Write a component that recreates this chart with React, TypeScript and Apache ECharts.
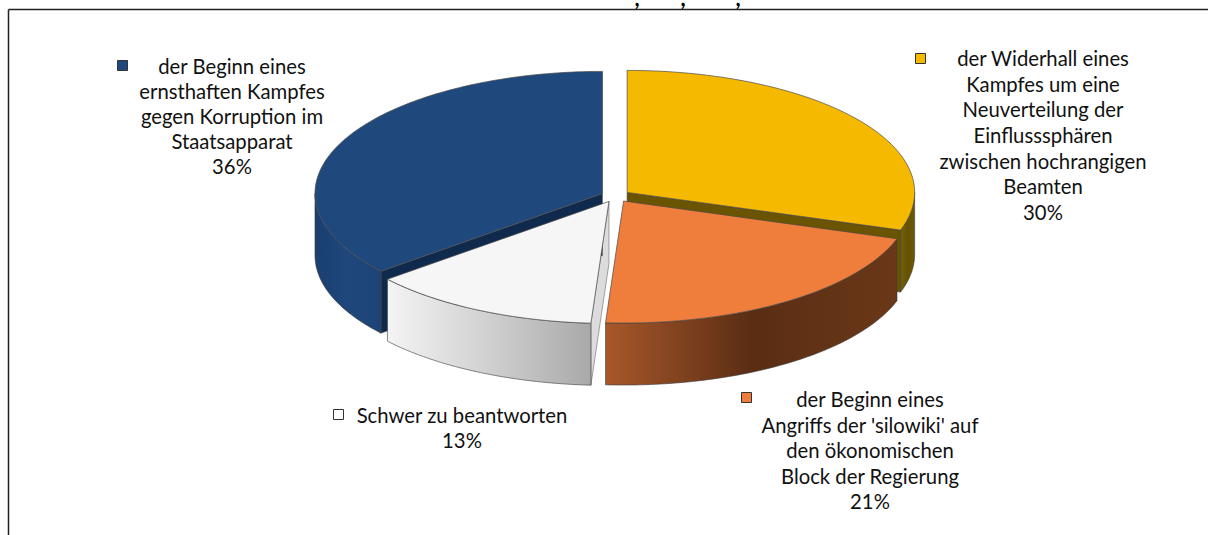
import React, { useEffect, useRef } from "react";
import * as echarts from "echarts";

// ---- data ----
const categories = [
  "der Widerhall eines Kampfes um eine Neuverteilung der Einflusssphären zwischen hochrangigen Beamten",
  "der Beginn eines Angriffs der 'silowiki' auf den ökonomischen Block der Regierung",
  "Schwer zu beantworten",
  "der Beginn eines ernsthaften Kampfes gegen Korruption im Staatsapparat",
];
const labelLines = [
  ["der Widerhall eines", "Kampfes um eine", "Neuverteilung der", "Einflusssphären", "zwischen hochrangigen", "Beamten"],
  ["der Beginn eines", "Angriffs der 'silowiki' auf", "den ökonomischen", "Block der Regierung"],
  ["Schwer zu beantworten"],
  ["der Beginn eines", "ernsthaften Kampfes", "gegen Korruption im", "Staatsapparat"],
];
const values = [30, 21, 13, 36];
const titleFragments = [",", ",", ","];

// ---- styles ----
const topColors = ["#F5B900", "#EF7D3B", "#F6F6F6", "#1F497D"];
const wallStops = [
  ["#75620a", "#655100", "#6e5a02"],
  ["#a8582b", "#5a2d13", "#6a3818"],
  ["#f4f4f4", "#d0d0d0", "#a9a9a9"],
  ["#1a3f70", "#1f477b", "#1d4477"],
];
const faceColors = ["#6b5400", "#6a3818", "#dcdcdc", "#0f2a4c"];
const swatchColors = ["#F5B900", "#EF7D3B", "#FFFFFF", "#1F497D"];

// ---- layout ----
const CX = 615.5, CY = 196, RX = 287.5, RY = 122, H = 62, EXPLODE = 0.05;
const labelLayout = [
  { cx: 1043, y0: 58, lh: 25.7, sx: 915, sy: 53 },
  { cx: 870, y0: 399, lh: 25.5, sx: 741, sy: 392 },
  { cx: 462, y0: 414.5, lh: 25, sx: 333, sy: 409 },
  { cx: 232, y0: 65.5, lh: 25, sx: 117, sy: 60 },
];
const titleX = [637, 683, 738];
const FONT = "Lato";
const FS = 20.3;

const deg = Math.PI / 180;

function sliceAngles(idx: number) {
  const total = values.reduce((a, b) => a + b, 0);
  let acc = 0;
  for (let i = 0; i < idx; i++) acc += values[i];
  const a0 = (acc / total) * 360;
  const a1 = ((acc + values[idx]) / total) * 360;
  return { a0, a1 };
}

function offsetOf(a0: number, a1: number) {
  const mid = ((a0 + a1) / 2) * deg;
  return [EXPLODE * RX * Math.sin(mid), -EXPLODE * RY * Math.cos(mid)];
}

function rim(theta: number, ox: number, oy: number, dz = 0) {
  return [CX + ox + RX * Math.sin(theta * deg), CY + oy - RY * Math.cos(theta * deg) + dz];
}

function arc(from: number, to: number, ox: number, oy: number, dz = 0) {
  const pts: number[][] = [];
  const n = Math.max(2, Math.ceil(Math.abs(to - from)));
  for (let i = 0; i <= n; i++) {
    const t = from + ((to - from) * i) / n;
    pts.push(rim(t, ox, oy, dz));
  }
  return pts;
}

export default function App() {
  const ref = useRef<HTMLDivElement>(null);
  useEffect(() => {
    document.body.style.margin = "0";
    const chart = echarts.init(ref.current!, undefined, { renderer: "svg" });
    const total = values.reduce((a, b) => a + b, 0);

    // radial (cut) faces of the slices
    const facesRender = (params: any) => {
      const i = params.dataIndex;
      const { a0, a1 } = sliceAngles(i);
      const [ox, oy] = offsetOf(a0, a1);
      const c = [CX + ox, CY + oy];
      const children: any[] = [];
      const faceAt = (t: number) => [c, rim(t, ox, oy), rim(t, ox, oy, H), [c[0], c[1] + H]];
      if (Math.cos((a1 + 90) * deg) < -0.01) {
        children.push({ type: "polygon", shape: { points: faceAt(a1) }, style: { fill: faceColors[i], stroke: "#3a3a3a", lineWidth: 0.6 } });
      }
      if (Math.cos((a0 - 90) * deg) < -0.01) {
        children.push({ type: "polygon", shape: { points: faceAt(a0) }, style: { fill: faceColors[i], stroke: "#6a6a6a", lineWidth: 0.6 } });
      }
      return { type: "group", children };
    };

    // outer curved walls
    const wallsRender = (params: any) => {
      const i = params.dataIndex;
      const { a0, a1 } = sliceAngles(i);
      const [ox, oy] = offsetOf(a0, a1);
      const lo = Math.max(a0, 90), hi = Math.min(a1, 270);
      if (lo >= hi) return { type: "group", children: [] };
      const pts = arc(lo, hi, ox, oy).concat(arc(hi, lo, ox, oy, H));
      const st = wallStops[i];
      return {
        type: "polygon",
        shape: { points: pts },
        style: {
          fill: new echarts.graphic.LinearGradient(0, 0, 1, 0, [
            { offset: 0, color: st[0] },
            { offset: 0.5, color: st[1] },
            { offset: 1, color: st[2] },
          ]),
          stroke: "#3a3a3a",
          lineWidth: 0.6,
        },
      };
    };

    const topsRender = (params: any) => {
      const i = params.dataIndex;
      const { a0, a1 } = sliceAngles(i);
      const [ox, oy] = offsetOf(a0, a1);
      const pts = [[CX + ox, CY + oy]].concat(arc(a0, a1, ox, oy));
      return {
        type: "polygon",
        shape: { points: pts },
        style: { fill: topColors[i], stroke: "#4a4a4a", lineWidth: 0.7 },
      };
    };

    const data = values.map((v, i) => ({ name: categories[i], value: v }));

    const graphics: any[] = [
      { type: "line", shape: { x1: 8.5, y1: 9.5, x2: 1208, y2: 9.5 }, style: { stroke: "#222", lineWidth: 1.5 } },
      { type: "line", shape: { x1: 8.5, y1: 9.5, x2: 8.5, y2: 535 }, style: { stroke: "#222", lineWidth: 1.5 } },
    ];
    titleFragments.forEach((t, k) => {
      graphics.push({
        type: "text",
        x: titleX[k],
        y: -14,
        style: { text: t, fontSize: 22, fontFamily: FONT, fontWeight: "bold", fill: "#000", align: "center", verticalAlign: "top" },
      });
    });
    labelLayout.forEach((L, i) => {
      const pct = Math.round((values[i] / total) * 100) + "%";
      graphics.push({
        type: "rect",
        shape: { x: L.sx + 0.5, y: L.sy + 0.5, width: 10, height: 10 },
        style: { fill: swatchColors[i], stroke: "#333", lineWidth: 1 },
      });
      graphics.push({
        type: "text",
        x: L.cx,
        y: L.y0 - L.lh / 2,
        style: {
          text: labelLines[i].concat([pct]).join("\n"),
          fontSize: FS,
          fontFamily: FONT,
          fill: "#111",
          align: "center",
          verticalAlign: "top",
          lineHeight: L.lh,
        },
      });
    });

    chart.setOption({
      animation: false,
      backgroundColor: "#ffffff",
      series: [
        { type: "custom", coordinateSystem: "none", z: 1, renderItem: facesRender, data, silent: true },
        { type: "custom", coordinateSystem: "none", z: 2, renderItem: wallsRender, data, silent: true },
        { type: "custom", coordinateSystem: "none", z: 3, renderItem: topsRender, data, silent: true },
      ],
      graphic: graphics,
    });
    return () => chart.dispose();
  }, []);
  return <div ref={ref} style={{ position: "fixed", left: 0, top: 0, width: 1208, height: 535 }} />;
}
